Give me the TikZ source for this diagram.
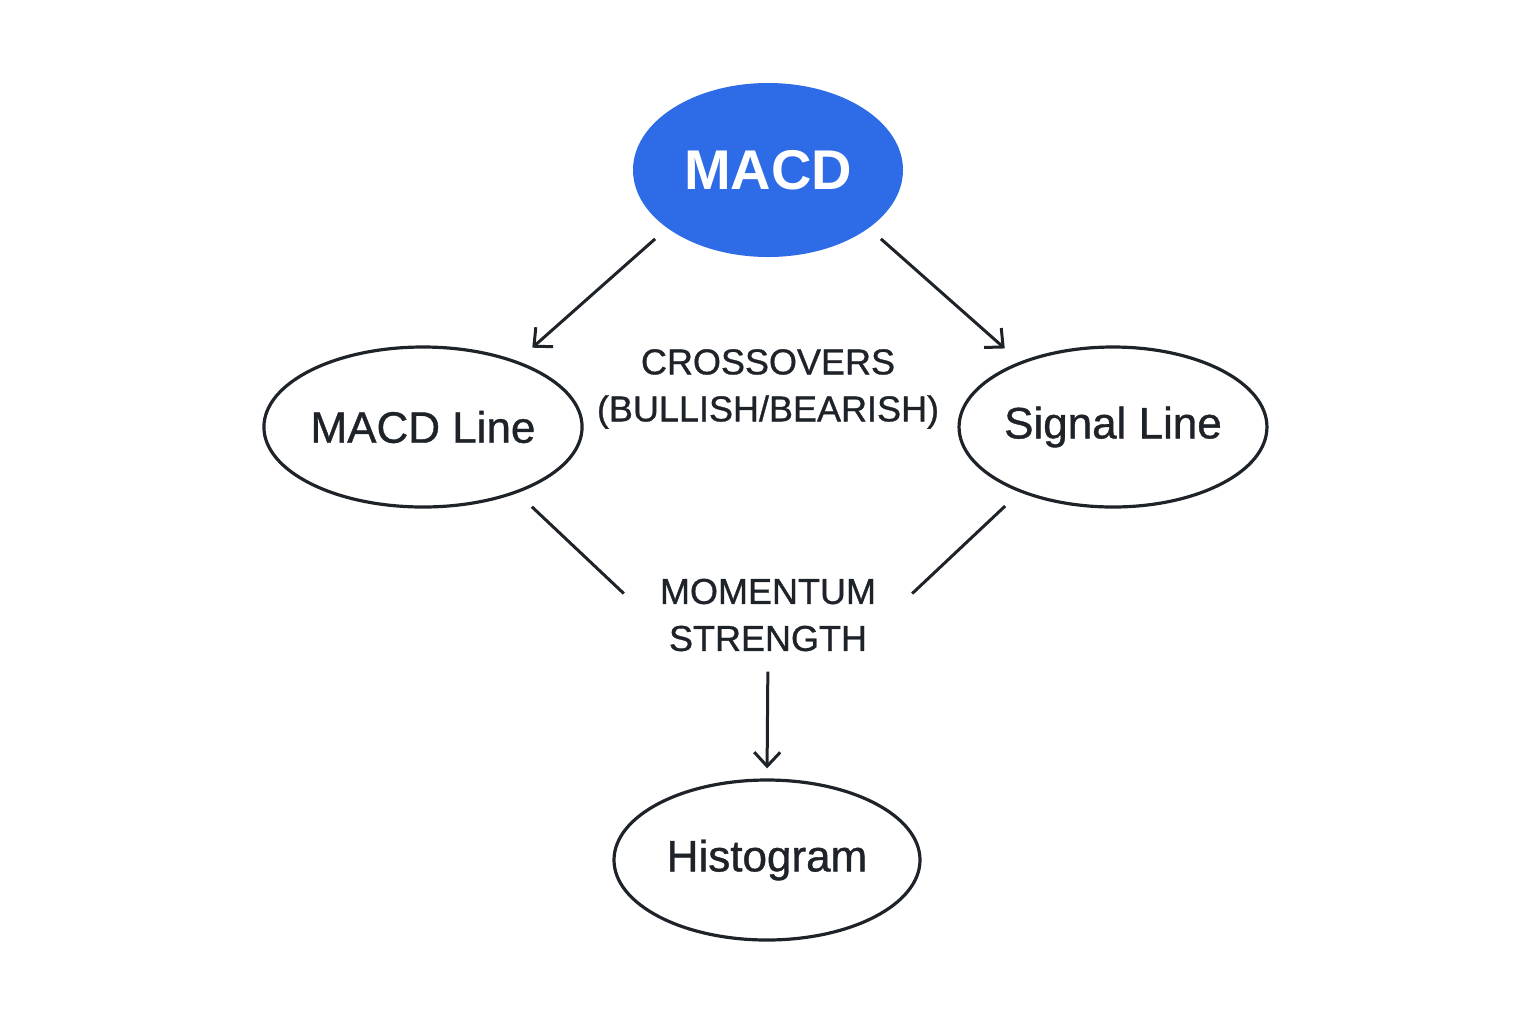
\documentclass[tikz,border=0pt]{standalone}
\usepackage{fontspec}
\setmainfont{Liberation Sans}
\newfontfamily\medfont{Liberation Sans}[FakeBold=0.9]
\usetikzlibrary{shapes.geometric,arrows.meta}
\definecolor{macdblue}{HTML}{2E6BE6}
\definecolor{ink}{HTML}{1E2329}
\begin{document}
\begin{tikzpicture}[x=0.5pt,y=-0.5pt,
		oval/.style={ellipse,draw=ink,line width=1.6pt,inner sep=0pt,minimum width=153pt,minimum height=80pt,text=ink,font=\medfont\fontsize{22}{26}\selectfont},
		tag/.style={align=center,inner ysep=0pt,inner xsep=15pt,text=ink,font=\medfont\fontsize{18}{23.5}\selectfont},
		link/.style={draw=ink,line width=1.5pt},
		arr/.style={link,-{Straight Barb[length=7pt,width=13pt]}}]
		\useasboundingbox (0,0) rectangle (1536,1024);
		\node [ellipse,fill=macdblue,inner sep=0pt,minimum width=135pt,minimum height=87pt,text=white,font=\bfseries\fontsize{28}{34}\selectfont] (macd) at (768,170) {MACD};
		\node [oval] (macdline) at (423,427) {MACD Line};
		\node [oval] (signal) at (1113,427) {Signal Line};
		\node [oval] (hist) at (767,860) {Histogram};
		\node [tag] (cross) at (768,389) {CROSSOVERS\\(BULLISH/BEARISH)};
		\node [tag] (momentum) at (768,615) {MOMENTUM\\STRENGTH};
		\draw [arr,shorten <=8pt,shorten >=10pt] (macd.210) -- (macdline.35);
		\draw [arr,shorten <=8pt,shorten >=10pt] (macd.-30) -- (signal.145);
		\draw [link,shorten <=10pt,shorten >=4pt] (macdline.-35) -- ([yshift=8pt]momentum.west);
		\draw [link,shorten <=10pt,shorten >=4pt] (signal.-145) -- ([yshift=8pt]momentum.east);
		\draw [arr,shorten <=10pt,shorten >=5pt] (momentum.south) -- (hist.north);
	\end{tikzpicture}
\end{document}
